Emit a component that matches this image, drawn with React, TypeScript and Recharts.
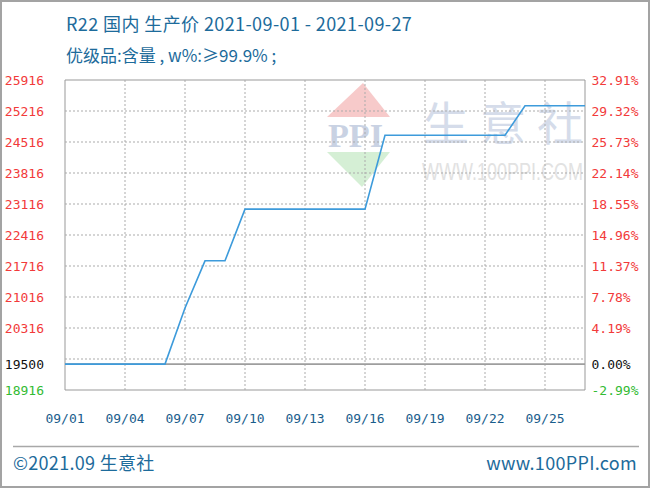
import React from "react";
import { LineChart, Line, XAxis, YAxis, ReferenceLine, ReferenceArea } from "recharts";

const dates = [
  "09/01", "09/02", "09/03", "09/04", "09/05", "09/06", "09/07", "09/08", "09/09",
  "09/10", "09/11", "09/12", "09/13", "09/14", "09/15", "09/16", "09/17", "09/18",
  "09/19", "09/20", "09/21", "09/22", "09/23", "09/24", "09/25", "09/26", "09/27",
];
const prices = [
  19500, 19500, 19500, 19500, 19500, 19500, 20767, 21833, 21833,
  23000, 23000, 23000, 23000, 23000, 23000, 23000, 24667, 24667,
  24667, 24667, 24667, 24667, 24667, 25333, 25333, 25333, 25333,
];
const xTickLabels = ["09/01", "09/04", "09/07", "09/10", "09/13", "09/16", "09/19", "09/22", "09/25"];
const basePrice = 19500;
const leftTicks = [18916, 19500, 20316, 21016, 21716, 22416, 23116, 23816, 24516, 25216, 25916];
const gridValues = [19616, 20316, 21016, 21716, 22416, 23116, 23816, 24516, 25216];
const rightTicks = [-2.99, 0, 4.19, 7.78, 11.37, 14.96, 18.55, 22.14, 25.73, 29.32, 32.91];
const yMin = 18916;
const yMax = 25916;
const pctMin = -2.99;
const pctMax = 32.91;

const data = dates.map((d, i) => ({ day: i + 1, label: d, price: prices[i] }));
const xTicks = xTickLabels.map((l) => dates.indexOf(l) + 1);

const RED = "#f23a3a";
const GREEN = "#33bb33";
const BLACK = "#111111";
const BLUE_TEXT = "#1d6b9b";
const MONO = "'DejaVu Sans Mono', 'Liberation Mono', monospace";
const SANS = "'Noto Sans CJK SC', 'Noto Sans', sans-serif";

const colorFor = (sign: number) => (sign === 0 ? BLACK : sign < 0 ? GREEN : RED);

const LeftTick = (props: any) => {
  const { x, y, payload } = props;
  const v = payload.value as number;
  return (
    <text x={x - 21} y={y} dominantBaseline="central" textAnchor="end" fontFamily={MONO} fontSize={13} fill={colorFor(Math.sign(v - basePrice))}>
      {v}
    </text>
  );
};

const RightTick = (props: any) => {
  const { x, y, payload } = props;
  const v = payload.value as number;
  return (
    <text x={x + 6.5} y={y} dominantBaseline="central" textAnchor="start" fontFamily={MONO} fontSize={13} fill={colorFor(Math.sign(v))}>
      {v.toFixed(2) + "%"}
    </text>
  );
};

const BottomTick = (props: any) => {
  const { x, y, payload } = props;
  return (
    <text x={x} y={y + 28} dominantBaseline="central" textAnchor="middle" fontFamily={MONO} fontSize={13} fill="#1a5d8c">
      {dates[(payload.value as number) - 1]}
    </text>
  );
};

const Watermark = () => (
  <svg width={650} height={488} style={{ position: "absolute", left: 0, top: 0 }}>
    <polygon points="363,83 327,117 390,117" fill="#f7caca" />
    <text x={328} y={147} fontFamily="'Liberation Serif', serif" fontWeight="bold" fontSize={33} fill="#c9d2e3" textLength={55} lengthAdjust="spacingAndGlyphs">
      PPI
    </text>
    <polygon points="327,152 390,152 362,187" fill="#d5efd5" />
    <text x={423} y={140} fontFamily={SANS} fontSize={46} fill="#d5dcea" textLength={160} lengthAdjust="spacing">
      生意社
    </text>
    <g transform="translate(422,180) scale(1,1.3)">
      <text x={0} y={0} fontFamily="'Liberation Sans', sans-serif" fontSize={18} fill="#e2e2e2">
        WWW.100PPI.COM
      </text>
    </g>
  </svg>
);

export default function App() {
  return (
    <div style={{ position: "relative", width: 650, height: 488, background: "#fff", overflow: "hidden" }}>
      <style>{`body{margin:0;}`}</style>
      <Watermark />
      <div style={{ position: "absolute", left: 0, top: 0 }}>
        <LineChart width={650} height={488} data={data} margin={{ top: 80, right: 0, bottom: 0, left: 0 }}>
          <XAxis
            dataKey="day"
            type="number"
            domain={[1, 27]}
            ticks={xTicks}
            interval={0}
            axisLine={false}
            tickLine={false}
            tickSize={0}
            tickMargin={0}
            tick={<BottomTick />}
            height={98}
          />
          <YAxis
            yAxisId="left"
            orientation="left"
            domain={[yMin, yMax]}
            ticks={leftTicks}
            interval={0}
            width={65}
            axisLine={false}
            tickLine={false}
            tickSize={0}
            tickMargin={0}
            tick={<LeftTick />}
            allowDataOverflow
          />
          <YAxis
            yAxisId="right"
            orientation="right"
            domain={[pctMin, pctMax]}
            ticks={rightTicks}
            interval={0}
            width={65}
            axisLine={false}
            tickLine={false}
            tickSize={0}
            tickMargin={0}
            tick={<RightTick />}
            allowDataOverflow
          />
          {gridValues.map((g) => (
            <ReferenceLine key={"h" + g} yAxisId="left" y={g} stroke="#ababab" strokeDasharray="2 2" />
          ))}
          {xTicks.slice(1).map((t) => (
            <ReferenceLine key={"v" + t} yAxisId="left" x={t} stroke="#ababab" strokeDasharray="2 2" />
          ))}
          <ReferenceLine yAxisId="left" y={basePrice} stroke="#9e9e9e" strokeWidth={1.6} />
          <ReferenceArea yAxisId="left" x1={1} x2={27} y1={yMin} y2={yMax} fill="none" fillOpacity={0} stroke="#999999" strokeWidth={1} />
          <Line
            yAxisId="left"
            type="linear"
            dataKey="price"
            stroke="#3d9bdb"
            strokeWidth={1.6}
            dot={false}
            activeDot={false}
            isAnimationActive={false}
          />
        </LineChart>
      </div>
      <svg width={650} height={488} style={{ position: "absolute", left: 0, top: 0, pointerEvents: "none" }}>
        <text x={66} y={31} fontFamily={SANS} fontSize={18} letterSpacing={0.4} fill={BLUE_TEXT}>
          R22 国内 生产价 2021-09-01 - 2021-09-27
        </text>
        <text x={66} y={62} fontFamily={SANS} fontSize={17} fill={BLUE_TEXT}>
          优级品:含量 , w%:≥99.9% ;
        </text>
        <line x1={13} y1={446.5} x2={639} y2={446.5} stroke="#a8a8a8" strokeWidth={1.5} />
        <text x={13} y={470} fontFamily={SANS} fontSize={18} letterSpacing={0.3} fill={BLUE_TEXT}>
          ©2021.09 生意社
        </text>
        <text x={637} y={470} textAnchor="end" fontFamily={SANS} fontSize={18} letterSpacing={0.3} fill={BLUE_TEXT}>
          www.100PPI.com
        </text>
      </svg>
      <div style={{ position: "absolute", left: 0, top: 0, width: 650, height: 488, boxSizing: "border-box", border: "2px solid #a3a3a3", pointerEvents: "none" }} />
    </div>
  );
}
